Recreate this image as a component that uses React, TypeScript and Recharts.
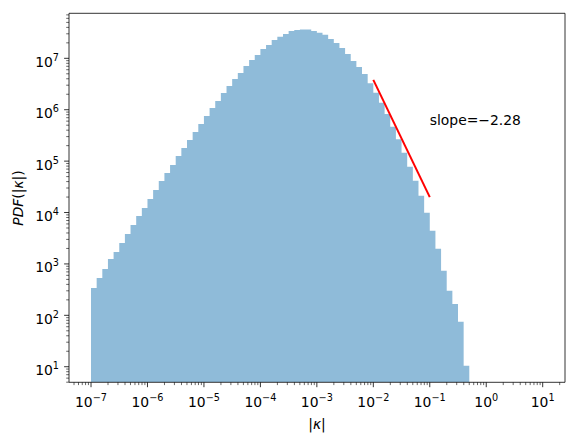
import React from 'react';
import {
  ComposedChart,
  Area,
  Line,
  XAxis,
  YAxis,
  ReferenceArea,
  ReferenceDot,
  Customized,
} from 'recharts';

// Histogram bin edges (log10 of |kappa|), 0.1 decade bins
const binEdgeExponents = [
  -7.0, -6.9, -6.8, -6.7, -6.6, -6.5, -6.4, -6.3, -6.2, -6.1,
  -6.0, -5.9, -5.8, -5.7, -5.6, -5.5, -5.4, -5.3, -5.2, -5.1,
  -5.0, -4.9, -4.8, -4.7, -4.6, -4.5, -4.4, -4.3, -4.2, -4.1,
  -4.0, -3.9, -3.8, -3.7, -3.6, -3.5, -3.4, -3.3, -3.2, -3.1,
  -3.0, -2.9, -2.8, -2.7, -2.6, -2.5, -2.4, -2.3, -2.2, -2.1,
  -2.0, -1.9, -1.8, -1.7, -1.6, -1.5, -1.4, -1.3, -1.2, -1.1,
  -1.0, -0.9, -0.8, -0.7, -0.6, -0.5, -0.4, -0.3,
];

// PDF values for each bin
const pdfValues = [
  340, 532, 796, 1245, 1705, 2553, 3820, 5715, 8550, 12240,
  18330, 27400, 41000, 58700, 83900, 125600, 179800, 257600, 368000, 527000,
  755000, 1080000, 1480000, 2110000, 2890000, 3950000, 5170000, 7080000, 9270000, 11600000,
  15200000, 18200000, 22700000, 26300000, 29700000, 34000000, 35600000, 36500000, 36300000, 34000000,
  31500000, 28800000, 23700000, 19800000, 15900000, 12100000, 8870000, 6780000, 4950000, 3260000,
  2140000, 1370000, 824000, 467000, 265000, 146000, 77800, 41600, 21200, 9900,
  4430, 1980, 738, 301, 166, 75, 10.5,
];

// Power-law fit line
const fitX = [0.01, 0.1];
const fitY = [3.8e6, 1.99e4];
const slopeLabel = 'slope=\u22122.28';
const slopeLabelPos = { x: 0.1, y: 5e5 };

const xMajorExponents = [-7, -6, -5, -4, -3, -2, -1, 0, 1];
const yMajorExponents = [1, 2, 3, 4, 5, 6, 7];

const X_MIN = Math.pow(10, -7.39);
const X_MAX = Math.pow(10, 1.395);
const Y_MIN = Math.pow(10, 0.697);
const Y_MAX = Math.pow(10, 7.876);

const histData = binEdgeExponents.map((e, i) => ({
  x: Math.pow(10, e),
  y: i < pdfValues.length ? pdfValues[i] : pdfValues[pdfValues.length - 1],
}));
const fitData = fitX.map((x, i) => ({ x, y: fitY[i] }));

function logTicks(min: number, max: number) {
  const out: number[] = [];
  for (let e = Math.floor(Math.log10(min)); e <= Math.ceil(Math.log10(max)); e++) {
    for (let m = 1; m <= 9; m++) {
      const v = m * Math.pow(10, e);
      if (v >= min && v <= max) out.push(v);
    }
  }
  return out;
}
const xTicks = logTicks(X_MIN, X_MAX);
const yTicks = logTicks(Y_MIN, Y_MAX);

const FONT = 'DejaVu Sans';
const FS = 13.9;
const SUP = 9.7;

const expStr = (e: number) => (e < 0 ? '\u2212' + Math.abs(e) : String(e));

function majorExp(v: number, majors: number[]) {
  const l = Math.log10(v);
  const r = Math.round(l);
  if (Math.abs(l - r) < 1e-6 && majors.includes(r)) return r;
  return null;
}

const XTick = (props: any) => {
  const { x, y, payload } = props;
  const e = majorExp(payload.value, xMajorExponents);
  const isMajor = e !== null;
  return (
    <g>
      <line x1={x} x2={x} y1={y} y2={y + (isMajor ? 4.9 : 2.8)} stroke="#000" strokeWidth={isMajor ? 0.8 : 0.6} />
      {isMajor && (
        <text x={x} y={y + 24.7} textAnchor="middle" fontFamily={FONT} fontSize={FS} fill="#000">
          10
          <tspan dy={-6} fontSize={SUP}>{expStr(e as number)}</tspan>
        </text>
      )}
    </g>
  );
};

const YTick = (props: any) => {
  const { x, y, payload } = props;
  const e = majorExp(payload.value, yMajorExponents);
  const isMajor = e !== null;
  return (
    <g>
      <line x1={x - (isMajor ? 4.9 : 2.8)} x2={x} y1={y} y2={y} stroke="#000" strokeWidth={isMajor ? 0.8 : 0.6} />
      {isMajor && (
        <text x={x - 10} y={y + 8.4} textAnchor="end" fontFamily={FONT} fontSize={FS} fill="#000">
          10
          <tspan dy={-6} fontSize={SUP}>{expStr(e as number)}</tspan>
        </text>
      )}
    </g>
  );
};

const AxisLabels = () => (
  <g fontFamily={FONT} fontSize={FS} fill="#000">
    <text x={317} y={429} textAnchor="middle">
      |<tspan fontStyle="italic">κ</tspan>|
    </text>
    <text x={23} y={198} textAnchor="middle" transform="rotate(-90, 23, 198)">
      <tspan fontStyle="italic">PDF</tspan>(|<tspan fontStyle="italic">κ</tspan>|)
    </text>
  </g>
);

export default function App() {
  return (
    <div style={{ position: 'absolute', left: 0, top: 0, width: 578, height: 444, background: '#fff' }}>
      <ComposedChart
        width={578}
        height={444}
        margin={{ top: 13.3, right: 13, bottom: 21.7, left: 0 }}
      >
        <XAxis
          dataKey="x"
          type="number"
          scale="log"
          domain={[X_MIN, X_MAX]}
          allowDataOverflow
          ticks={xTicks}
          interval={0}
          tick={<XTick />}
          tickLine={false}
          axisLine={false}
          tickSize={0}
          tickMargin={0}
          height={40}
        />
        <YAxis
          dataKey="y"
          type="number"
          scale="log"
          domain={[Y_MIN, Y_MAX]}
          allowDataOverflow
          ticks={yTicks}
          interval={0}
          tick={<YTick />}
          tickLine={false}
          axisLine={false}
          tickSize={0}
          tickMargin={0}
          width={69}
        />
        <Area
          data={histData}
          dataKey="y"
          type="stepAfter"
          fill="#1f77b4"
          fillOpacity={0.5}
          stroke="none"
          baseValue={Y_MIN}
          isAnimationActive={false}
          dot={false}
          activeDot={false}
        />
        <Line
          data={fitData}
          dataKey="y"
          type="linear"
          stroke="#ff0000"
          strokeWidth={2}
          dot={false}
          activeDot={false}
          isAnimationActive={false}
        />
        <ReferenceDot
          x={slopeLabelPos.x}
          y={slopeLabelPos.y}
          r={0}
          shape={(p: any) => (
            <text x={p.cx} y={p.cy} fontFamily={FONT} fontSize={FS} fill="#000">
              {slopeLabel}
            </text>
          )}
        />
        <ReferenceArea
          x1={X_MIN}
          x2={X_MAX}
          y1={Y_MIN}
          y2={Y_MAX}
          fill="none"
          stroke="#000"
          strokeWidth={0.8}
          ifOverflow="visible"
        />
        <Customized component={AxisLabels} />
      </ComposedChart>
    </div>
  );
}
